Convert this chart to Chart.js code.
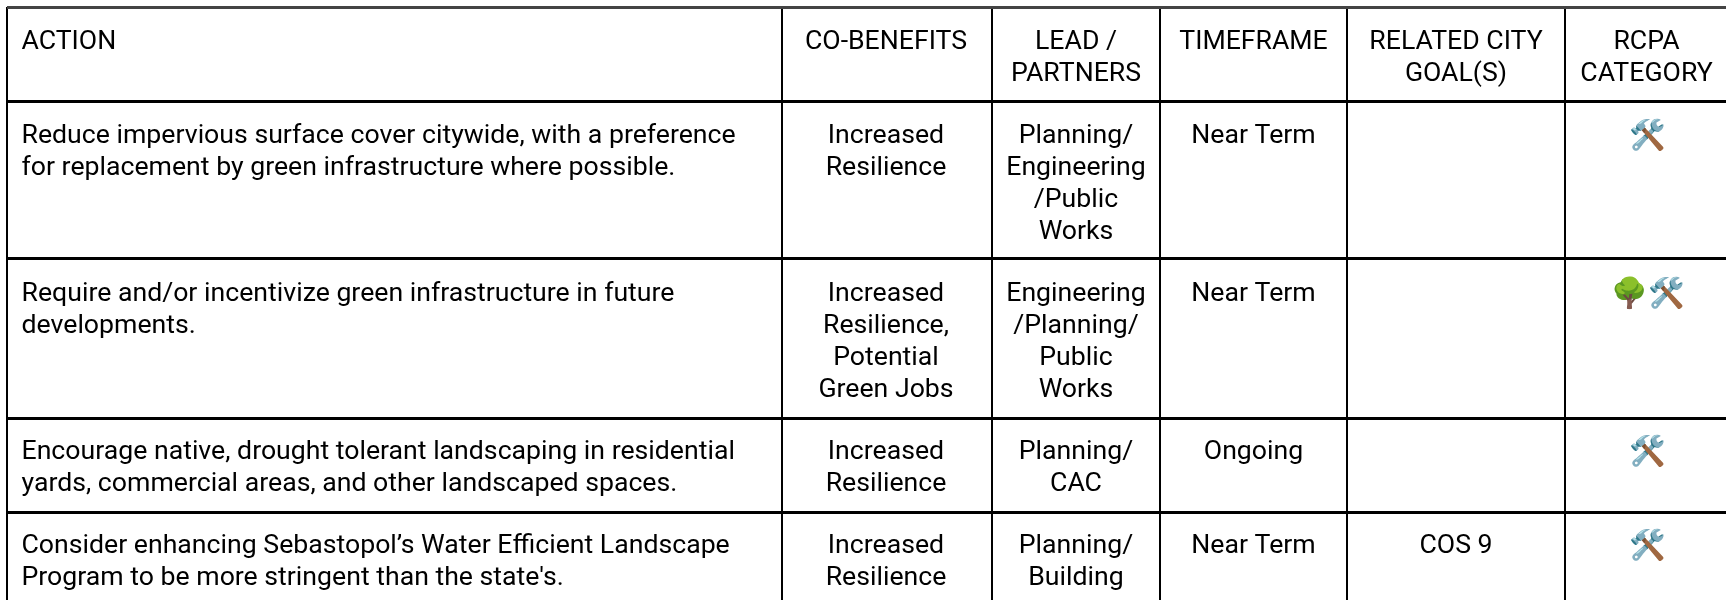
<!DOCTYPE html>
<html lang="en">
<head>
    <meta charset="UTF-8">
    <title>Actions table</title>
    <script src="https://cdn.jsdelivr.net/npm/chart.js"></script>
    <style>
        html, body { margin: 0; padding: 0; background: #fff; }
        #wrap { width: 1726px; height: 600px; }
    </style>
</head>
<body>
    <div id="wrap"><canvas id="table"></canvas></div>
    <script>
        // Table content, one list per column
        const headers = [['ACTION'], ['CO-BENEFITS'], ['LEAD /', 'PARTNERS'], ['TIMEFRAME'], ['RELATED CITY', 'GOAL(S)'], ['RCPA', 'CATEGORY']];
        const actions = [
            ['Reduce impervious surface cover citywide, with a preference', 'for replacement by green infrastructure where possible.'],
            ['Require and/or incentivize green infrastructure in future', 'developments.'],
            ['Encourage native, drought tolerant landscaping in residential', 'yards, commercial areas, and other landscaped spaces.'],
            ['Consider enhancing Sebastopol\u2019s Water Efficient Landscape', "Program to be more stringent than the state's."]
        ];
        const coBenefits = [
            ['Increased', 'Resilience'],
            ['Increased', 'Resilience,', 'Potential', 'Green Jobs'],
            ['Increased', 'Resilience'],
            ['Increased', 'Resilience']
        ];
        const partners = [
            ['Planning/', 'Engineering', '/Public', 'Works'],
            ['Engineering', '/Planning/', 'Public', 'Works'],
            ['Planning/', 'CAC'],
            ['Planning/', 'Building']
        ];
        const timeframes = [['Near Term'], ['Near Term'], ['Ongoing'], ['Near Term']];
        const cityGoals = [[], [], [], ['COS 9']];
        const categories = [['\u{1F6E0}\uFE0F'], ['\u{1F333}\u{1F6E0}\uFE0F'], ['\u{1F6E0}\uFE0F'], ['\u{1F6E0}\uFE0F']];

        // Axis ticks are the cell borders
        const columnEdges = [7, 781.5, 992, 1160, 1347, 1565, 1726];
        const rowEdges = [7, 101, 258, 418, 512, 600];
        // Text anchor of each column and first text baseline of each row, in axis units
        const columnAnchors = [21.5, 886, 1076, 1253.5, 1456, 1646.5];
        const rowBaselines = [49, 143, 301, 458.5, 552.5];

        const FONT = '26.67px Roboto';
        const EMOJI_FONT = '29.5px Roboto';
        const LINE = 32;
        const columns = [actions, coBenefits, partners, timeframes, cityGoals, categories];

        // One invisible point per text line, placed by the scales
        const cells = [];
        function addCell(lines, c, r, emoji) {
            lines.forEach((text, i) => {
                cells.push({
                    x: columnAnchors[c] + (emoji ? 1 : 0),
                    y: rowBaselines[r] + i * LINE + (emoji ? 2 : 0),
                    text: text,
                    align: c === 0 ? 'left' : 'center',
                    font: emoji ? EMOJI_FONT : FONT
                });
            });
        }
        headers.forEach((lines, c) => addCell(lines, c, 0, false));
        columns.forEach((col, c) => col.forEach((lines, r) => addCell(lines, c, r + 1, col === categories)));

        const cellText = {
            id: 'cellText',
            afterDatasetsDraw(chart) {
                const ctx = chart.ctx;
                ctx.save();
                ctx.fillStyle = '#000';
                ctx.textBaseline = 'alphabetic';
                chart.getDatasetMeta(0).data.forEach((pt, i) => {
                    ctx.font = cells[i].font;
                    ctx.textAlign = cells[i].align;
                    ctx.fillText(cells[i].text, pt.x, pt.y);
                });
                ctx.restore();
            }
        };

        new Chart(document.getElementById('table'), {
            type: 'scatter',
            data: { datasets: [{ data: cells, pointRadius: 0, clip: false }] },
            options: {
                responsive: true,
                maintainAspectRatio: false,
                animation: false,
                layout: { padding: { left: columnEdges[0], top: rowEdges[0], right: 0, bottom: 0 } },
                plugins: { legend: { display: false }, tooltip: { enabled: false } },
                scales: {
                    x: {
                        type: 'linear', min: columnEdges[0], max: 1726,
                        afterBuildTicks: axis => { axis.ticks = columnEdges.slice(0, -1).map(v => ({ value: v })); },
                        ticks: { display: false },
                        border: { display: false },
                        grid: { color: '#000', lineWidth: 2, drawTicks: false }
                    },
                    y: {
                        type: 'linear', min: rowEdges[0], max: 600, reverse: true,
                        afterBuildTicks: axis => { axis.ticks = rowEdges.slice(0, -1).map(v => ({ value: v })); },
                        ticks: { display: false },
                        border: { display: false },
                        // top border is a bit lighter in the picture
                        grid: { color: c => (c.index === 0 ? '#444' : '#000'), lineWidth: 3, drawTicks: false }
                    }
                }
            },
            plugins: [cellText]
        });
    </script>
</body>
</html>
